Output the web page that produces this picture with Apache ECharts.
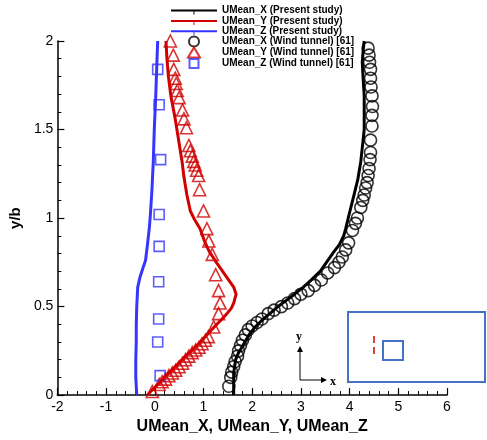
<!DOCTYPE html>
<html>
<head>
<meta charset="utf-8">
<script src="https://cdn.jsdelivr.net/npm/echarts@6/dist/echarts.min.js"></script>
<style>html,body{margin:0;padding:0;background:#fff}#c{width:487px;height:440px}</style>
</head>
<body>
<div id="c"></div>
<script>
// Present study (lines): [value, y/b]
const umxLine = [[1.62,0.0],[1.62,0.06],[1.62,0.125],[1.66,0.2],[1.72,0.24],[1.79,0.27],[1.87,0.31],[1.96,0.35],[2.08,0.39],[2.19,0.42],[2.36,0.46],[2.53,0.50],[2.70,0.535],[2.87,0.57],[3.05,0.61],[3.21,0.65],[3.40,0.70],[3.55,0.76],[3.68,0.81],[3.79,0.85],[3.88,0.90],[3.92,0.94],[3.99,1.02],[4.09,1.13],[4.17,1.22],[4.23,1.32],[4.27,1.42],[4.30,1.50],[4.30,1.60],[4.30,1.69],[4.28,1.78],[4.26,1.88],[4.28,1.95],[4.30,2.0]];
const umyLine = [[-0.15,0.0],[-0.05,0.03],[0.10,0.07],[0.23,0.11],[0.40,0.155],[0.56,0.2],[0.73,0.245],[0.90,0.29],[1.07,0.34],[1.24,0.39],[1.38,0.43],[1.48,0.46],[1.57,0.49],[1.62,0.52],[1.67,0.57],[1.62,0.61],[1.53,0.645],[1.44,0.68],[1.34,0.72],[1.24,0.76],[1.12,0.81],[1.02,0.87],[0.93,0.94],[0.82,0.99],[0.73,1.04],[0.66,1.13],[0.60,1.23],[0.56,1.32],[0.49,1.44],[0.42,1.56],[0.33,1.69],[0.28,1.80],[0.25,1.90],[0.23,2.0]];
const umzLine = [[-0.37,0.0],[-0.39,0.1],[-0.39,0.2],[-0.38,0.3],[-0.38,0.39],[-0.37,0.5],[-0.35,0.61],[-0.30,0.67],[-0.24,0.72],[-0.19,0.76],[-0.15,0.85],[-0.11,0.95],[-0.09,1.02],[-0.06,1.15],[-0.03,1.32],[-0.01,1.5],[0.02,1.69],[0.04,1.85],[0.06,2.0]];
// Wind tunnel [61] (markers)
const umxWT = [[1.52,0.05],[1.56,0.10],[1.58,0.13],[1.62,0.16],[1.65,0.19],[1.70,0.22],[1.72,0.25],[1.76,0.28],[1.80,0.31],[1.86,0.34],[1.92,0.37],[2.00,0.39],[2.10,0.41],[2.20,0.43],[2.33,0.46],[2.45,0.48],[2.60,0.50],[2.73,0.52],[2.87,0.545],[3.00,0.57],[3.15,0.59],[3.28,0.62],[3.42,0.65],[3.55,0.69],[3.69,0.72],[3.78,0.75],[3.85,0.78],[3.92,0.82],[3.98,0.86],[4.06,0.93],[4.12,0.97],[4.16,1.00],[4.23,1.06],[4.27,1.10],[4.30,1.13],[4.33,1.17],[4.36,1.20],[4.38,1.24],[4.40,1.28],[4.42,1.33],[4.43,1.37],[4.43,1.44],[4.46,1.52],[4.46,1.58],[4.47,1.63],[4.46,1.69],[4.44,1.74],[4.43,1.79],[4.43,1.84],[4.41,1.88],[4.40,1.92],[4.38,1.96]];
const umyWT = [[-0.05,0.02],[0.09,0.06],[0.15,0.075],[0.22,0.09],[0.29,0.11],[0.36,0.125],[0.43,0.14],[0.50,0.16],[0.57,0.18],[0.63,0.20],[0.70,0.22],[0.77,0.24],[0.84,0.255],[0.91,0.27],[0.97,0.29],[1.04,0.31],[1.10,0.33],[1.21,0.385],[1.31,0.46],[1.34,0.52],[1.31,0.59],[1.25,0.68],[1.18,0.795],[1.11,0.87],[1.07,0.94],[1.00,1.04],[0.92,1.16],[0.90,1.24],[0.86,1.27],[0.83,1.30],[0.80,1.32],[0.77,1.35],[0.73,1.38],[0.70,1.41],[0.65,1.51],[0.60,1.56],[0.57,1.61],[0.50,1.68],[0.46,1.72],[0.44,1.76],[0.42,1.79],[0.39,1.84],[0.38,1.92],[0.32,2.0]];
const umzWT = [[0.11,0.11],[0.06,0.30],[0.08,0.43],[0.08,0.64],[0.09,0.84],[0.09,1.02],[0.12,1.33],[0.09,1.64],[0.06,1.84]];
const names = ['UMean_X (Present study)','UMean_Y (Present study)','UMean_Z (Present study)','UMean_X (Wind tunnel) [61]','UMean_Y (Wind tunnel) [61]','UMean_Z (Wind tunnel) [61]'];
const xAxisName = 'UMean_X, UMean_Y, UMean_Z';
const yAxisName = 'y/b';

const BLACK = '#000000', RED = '#d00000', BLUE = '#3535ff', INSET = '#4472c4';
const FONT = '"Liberation Sans", Arial, sans-serif';
// legend icons padded to the full 46x10 legend box so they are not stretched
const ICON_TICK = 'path://M0,0M10,10M4.4,6L5.6,6L5.6,10L4.4,10Z';
const ICON_TRI = 'path://M0,0M46,10M17,10L29,10L23,0Z';
const ICON_SQ = 'path://M0,0M46,10M18.5,0.5L27.5,0.5L27.5,9.5L18.5,9.5Z';

const chart = echarts.init(document.getElementById('c'), null, {renderer: 'canvas'});
function lineSeries(name, data, color) {
  return {name, type: 'line', data, symbol: ICON_TICK, showSymbol: false, z: 4,
    lineStyle: {color, width: 3}, itemStyle: {color}, animation: false};
}
function scatterSeries(name, data, color, symbol, size) {
  return {name, type: 'scatter', data, symbol, symbolSize: size, z: 3,
    itemStyle: {color: 'transparent', borderColor: color, borderWidth: 1.6}, animation: false};
}
const axisCommon = {
  axisLine: {show: true, onZero: false, lineStyle: {color: '#000', width: 1.5}},
  axisTick: {show: true, inside: true, length: 7, lineStyle: {color: '#000', width: 1.2}},
  minorTick: {show: true, splitNumber: 5, length: 4, lineStyle: {color: '#000', width: 1}},
  splitLine: {show: false},
  axisLabel: {color: '#000', fontSize: 14, fontFamily: FONT}
};
const legendText = {fontSize: 10, fontWeight: 'bold', color: '#000', fontFamily: FONT, lineHeight: 10};
chart.setOption({
  backgroundColor: '#fff',
  animation: false,
  grid: {left: 54, right: 40, top: 41, bottom: 41},
  legend: [
    {orient: 'vertical', left: 170, top: 5.5, itemWidth: 46, itemHeight: 10, itemGap: 0.4,
     padding: 0, textStyle: legendText, data: names.slice(0, 3)},
    {orient: 'vertical', left: 170, top: 35.4, itemWidth: 46, itemHeight: 10, itemGap: -0.9,
     padding: 0, textStyle: legendText,
     data: [{name: names[3], icon: 'circle'}, {name: names[4], icon: ICON_TRI}, {name: names[5], icon: ICON_SQ}]}
  ],
  xAxis: Object.assign({}, axisCommon, {
    type: 'value', min: -2, max: 6, interval: 1,
    name: xAxisName, nameLocation: 'middle', nameGap: 23,
    nameTextStyle: {fontSize: 16, fontWeight: 'bold', color: '#000', fontFamily: FONT},
    axisLabel: Object.assign({}, axisCommon.axisLabel, {margin: 5})
  }),
  yAxis: Object.assign({}, axisCommon, {
    type: 'value', min: 0, max: 2, interval: 0.5,
    name: yAxisName, nameLocation: 'middle', nameGap: 33, nameRotate: 90,
    nameTextStyle: {fontSize: 15, fontWeight: 'bold', color: '#000', fontFamily: FONT},
    axisLabel: Object.assign({}, axisCommon.axisLabel, {margin: 4})
  }),
  series: [
    lineSeries(names[0], umxLine, BLACK),
    lineSeries(names[1], umyLine, RED),
    lineSeries(names[2], umzLine, BLUE),
    scatterSeries(names[3], umxWT, BLACK, 'circle', 12),
    scatterSeries(names[4], umyWT, RED, 'triangle', 12),
    scatterSeries(names[5], umzWT, BLUE, 'rect', 10)
  ],
  graphic: [
    {type: 'rect', shape: {x: 348, y: 312, width: 137, height: 70}, style: {fill: 'none', stroke: INSET, lineWidth: 2}, z: 10},
    {type: 'rect', shape: {x: 383, y: 341, width: 20, height: 19}, style: {fill: 'none', stroke: INSET, lineWidth: 2}, z: 10},
    {type: 'line', shape: {x1: 374, y1: 336, x2: 374, y2: 354}, style: {stroke: '#d00000', lineWidth: 1.5, lineDash: [7, 4]}, z: 10},
    {type: 'line', shape: {x1: 300, y1: 380, x2: 300, y2: 350}, style: {stroke: '#000', lineWidth: 1}, z: 10},
    {type: 'polygon', shape: {points: [[300, 346], [297, 352], [303, 352]]}, style: {fill: '#000'}, z: 10},
    {type: 'line', shape: {x1: 300, y1: 380, x2: 323, y2: 380}, style: {stroke: '#000', lineWidth: 1}, z: 10},
    {type: 'polygon', shape: {points: [[327, 380], [321, 377], [321, 383]]}, style: {fill: '#000'}, z: 10},
    {type: 'text', x: 296, y: 331, style: {text: 'y', font: 'bold 12px "Liberation Serif", serif', fill: '#000'}, z: 10},
    {type: 'text', x: 330, y: 376, style: {text: 'x', font: 'bold 12px "Liberation Serif", serif', fill: '#000'}, z: 10}
  ]
});
</script>
</body>
</html>
